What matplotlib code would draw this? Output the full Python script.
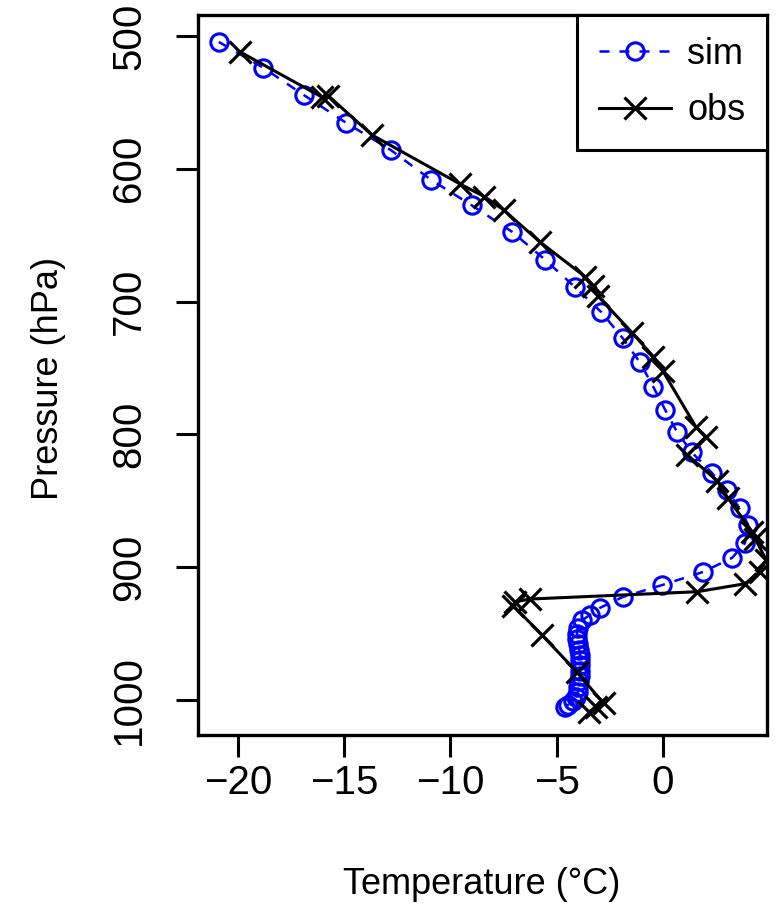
import numpy as np
import matplotlib
matplotlib.use("Agg")
import matplotlib.pyplot as plt

plt.rcParams["font.family"] = ["Liberation Sans", "DejaVu Sans"]

# simulated profile (temperature in C, pressure in hPa)
sim_temp = [-20.9, -18.8, -16.9, -14.9, -12.8, -10.9, -9.0, -7.1, -5.55, -4.15,
            -2.9, -1.9, -1.1, -0.45, 0.1, 0.65, 1.35, 2.3, 3.0, 3.6,
            4.0, 3.85, 3.25, 1.9, -0.05, -1.9, -2.95, -3.45, -3.8, -4.0,
            -4.05, -4.05, -4.0, -3.95, -3.9, -3.9, -3.9, -3.9, -3.9, -3.95,
            -4.0, -4.0, -4.1, -4.25, -4.45, -4.6]
sim_pres = [504.5, 524, 544.5, 565.5, 586, 608.5, 627.5, 647.5, 668.5, 689,
            708, 727.5, 745.5, 764.5, 781.5, 798, 813.5, 829, 842, 855.5,
            868, 882, 893, 903.5, 913.5, 922.5, 930.5, 936, 940, 946,
            950, 954, 958, 962, 966, 970, 974, 978, 982, 986,
            990, 994, 998, 1001, 1003.5, 1005]

# observed sounding
obs_temp = [-19.9, -16.05, -15.75, -13.7, -9.55, -8.4, -7.5, -5.8, -3.65, -3.3,
            -3.05, -1.45, -0.45, 0.0, 1.55, 2.0, 1.15, 2.55, 3.05, 4.2,
            4.35, 4.85, 4.55, 3.85, 1.6, -6.25, -6.95, -7.05, -5.7, -4.05,
            -2.8, -3.15, -3.5]
obs_pres = [512, 546, 545, 574.5, 611.5, 621, 631, 655, 681.5, 688.5,
            696, 723.5, 741.5, 752.5, 794.5, 802, 815.5, 835, 848, 873.5,
            879, 894.5, 903.5, 912.5, 918.5, 924, 926, 929, 951, 979,
            1002.5, 1005.5, 1009]

xticks = [-20, -15, -10, -5, 0]
yticks = [500, 600, 700, 800, 900, 1000]

fig = plt.figure(figsize=(7.77, 9.08), dpi=100)
ax = fig.add_axes([0.2548, 0.1905, 0.7323, 0.793])

ax.plot(sim_temp, sim_pres, color="blue", linestyle=(0, (4, 4)), linewidth=1.8,
        marker="o", markersize=12.5, markerfacecolor="none", markeredgewidth=2.2,
        markeredgecolor="blue", label="sim")
ax.plot(obs_temp, obs_pres, color="black", linestyle="-", linewidth=2.2,
        marker="x", markersize=16, markeredgewidth=2.3, label="obs")

ax.set_xlim(-21.88, 4.89)
ax.set_ylim(1026.4, 484.2)

ax.set_xticks(xticks)
ax.set_yticks(yticks)
ax.set_yticklabels([str(v) for v in yticks], rotation=90, va="center")
ax.tick_params(axis="both", direction="out", length=16, width=2.2,
               labelsize=29)
ax.tick_params(axis="x", pad=5)
ax.tick_params(axis="y", pad=20)
for s in ax.spines.values():
    s.set_linewidth(2.4)

fig.text(482 / 777, 1 - 885 / 908, "Temperature (°C)", fontsize=26,
         ha="center", va="center")
fig.text(48 / 777, 1 - 378 / 908, "Pressure (hPa)", fontsize=26,
         rotation=90, ha="center", va="center")

leg = ax.legend(loc="upper right", bbox_to_anchor=(1, 1), borderaxespad=0,
                fancybox=False, framealpha=1, edgecolor="black", fontsize=26,
                handlelength=2.0, handletextpad=0.45, borderpad=0.6,
                labelspacing=0.6)
leg.get_frame().set_linewidth(2.2)

fig.savefig("out.png", dpi=100)
